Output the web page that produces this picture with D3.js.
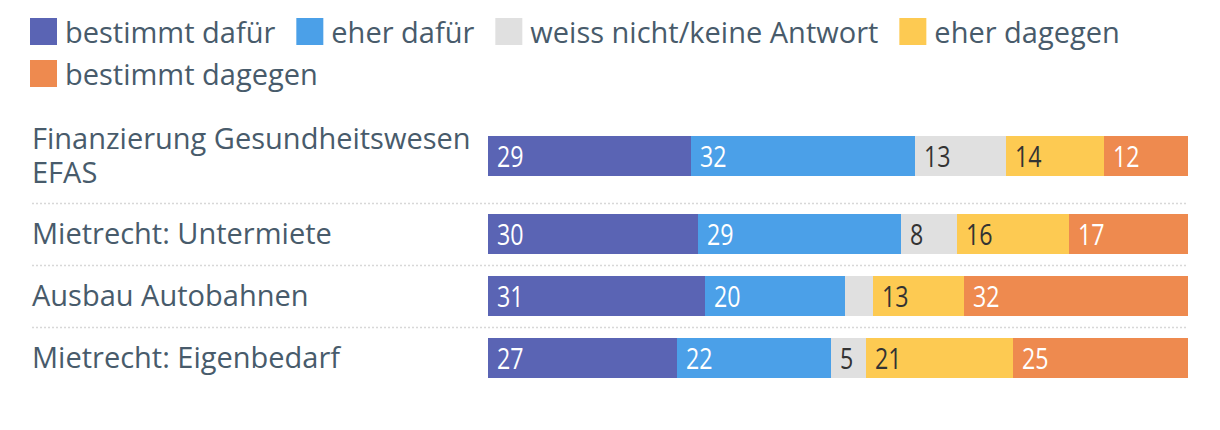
<!DOCTYPE html>
<html><head><meta charset="utf-8">
<script src="https://cdn.jsdelivr.net/npm/d3@7"></script>
<style>
body{margin:0;background:#fff;}
svg text{font-family:"Open Sans","Noto Sans",sans-serif;}
</style></head>
<body><svg id="chart" width="1220" height="430"></svg>
<script>
const categories = [["Finanzierung Gesundheitswesen","EFAS"],["Mietrecht: Untermiete"],["Ausbau Autobahnen"],["Mietrecht: Eigenbedarf"]];
const seriesNames = ["bestimmt dafür","eher dafür","weiss nicht/keine Antwort","eher dagegen","bestimmt dagegen"];
const bestimmtDafuer = [29,30,31,27];
const eherDafuer = [32,29,20,22];
const weissNicht = [13,8,4,5];
const eherDagegen = [14,16,13,21];
const bestimmtDagegen = [12,17,32,25];
const colors = ["#5a64b4","#4ba0e8","#e0e0e0","#fdca52","#ee8a4f"];
const labelColors = ["#fff","#fff","#333","#333","#fff"];

const series = [bestimmtDafuer,eherDafuer,weissNicht,eherDagegen,bestimmtDagegen];
const rows = categories.map((c,i)=>{const o={name:c};seriesNames.forEach((s,j)=>o[s]=series[j][i]);return o;});
const stacked = d3.stack().keys(seriesNames)(rows);

const svg = d3.select("#chart");
const textColor = "#485b6b";
const fontSize = 29;

// Legend (flow layout)
const legend = svg.append("g");
let lx = 30, ly = 18;
const legendRight = 1190, sw = 27, rowStep = 42;
seriesNames.forEach((s,i)=>{
  const g = legend.append("g");
  const t = g.append("text").attr("x",sw+8).attr("y",sw-2).attr("font-size",fontSize).attr("fill",textColor).text(s);
  const w = sw+8+t.node().getComputedTextLength();
  if (lx + w > legendRight) { lx = 30; ly += rowStep; }
  g.append("rect").attr("width",sw).attr("height",sw).attr("fill",colors[i]);
  g.attr("transform",`translate(${lx},${ly})`);
  lx += w + 21;
});

// Rows
const x = d3.scaleLinear().domain([0,100]).range([488,1188]);
const barH = 40, lineH = 34, pad = 11;
let rowY = 136;
const rowTops = [];
categories.forEach((c,i)=>{
  rowTops.push(rowY);
  const labelH = c.length>1 ? barH + (c.length-1)*(lineH-18) : barH;
  rowY += labelH + 2*pad;
});

// separators
rowTops.slice(1).forEach(t=>{
  svg.append("line").attr("x1",32).attr("x2",1188).attr("y1",t-pad+0.5).attr("y2",t-pad+0.5)
    .attr("stroke","#d8d8d8").attr("stroke-width",1.5).attr("stroke-dasharray","2,2");
});

// category labels (vertically centred on the bar)
categories.forEach((c,i)=>{
  const t = svg.append("text").attr("x",32).attr("font-size",fontSize).attr("fill",textColor);
  const c0 = rowTops[i]+barH/2 + 10 - (c.length-1)*lineH/2;
  c.forEach((line,k)=>{
    t.append("tspan").attr("x",32).attr("y",c0+k*lineH).text(line);
  });
});

// bars
stacked.forEach((layer,j)=>{
  const g = svg.append("g");
  layer.forEach((d,i)=>{
    const x0 = x(d[0]), x1 = x(d[1]);
    g.append("rect").attr("x",x0).attr("y",rowTops[i]).attr("width",x1-x0).attr("height",barH).attr("fill",colors[j]);
    const v = d[1]-d[0];
    if (x1-x0 >= 32) {
      g.append("text").attr("transform",`translate(${x0+9},${rowTops[i]+barH/2+11}) scale(0.8,1)`)
        .attr("font-size",29).attr("fill",labelColors[j]).text(v);
    }
  });
});
</script></body></html>
